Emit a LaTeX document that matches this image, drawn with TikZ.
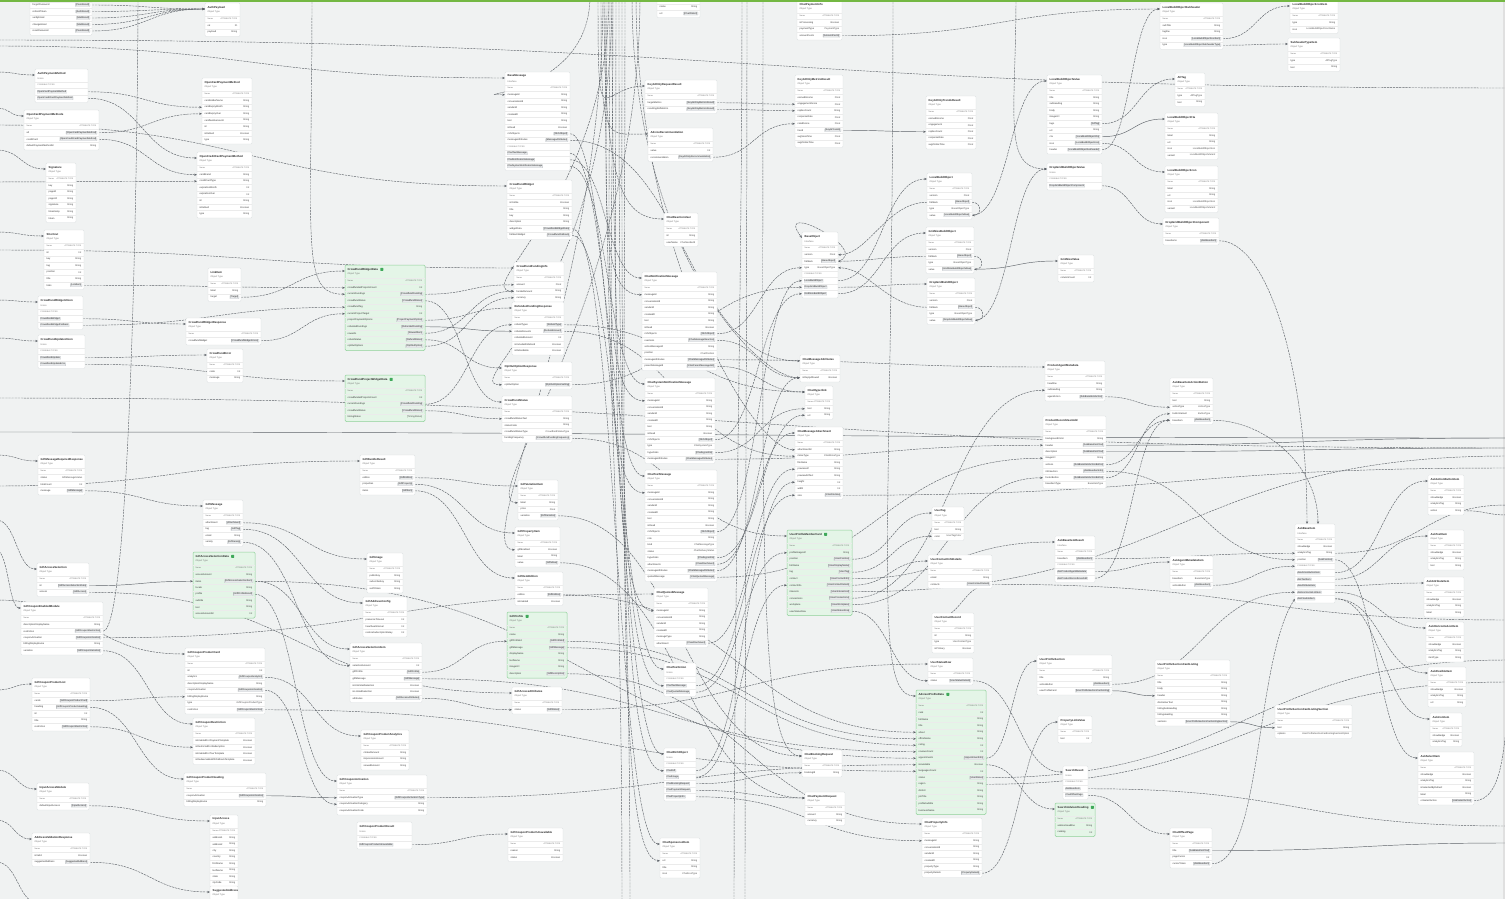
\documentclass[tikz,border=0pt]{standalone}
\usepackage{fontspec}
\setmainfont{Liberation Sans}
\usetikzlibrary{arrows.meta,calc}
\definecolor{canvasbg}{HTML}{F0F2F2}
\definecolor{boxline}{HTML}{D9DDDF}
\definecolor{gfill}{HTML}{E4F5E7}
\definecolor{gline}{HTML}{8FD19A}
\definecolor{edgec}{HTML}{5E6369}
\definecolor{lnkfill}{HTML}{E7E9EB}
\definecolor{lnkline}{HTML}{B3B8BC}
\definecolor{topg}{HTML}{74B843}
\definecolor{gicon}{HTML}{3FA95A}
\pgfdeclarelayer{canvas}
\pgfdeclarelayer{edges}
\pgfdeclarelayer{bg}
\pgfsetlayers{canvas,edges,bg,main}
\tikzset{
  box/.style={draw=boxline, line width=0.3pt, fill=white, rounded corners=1.2pt, inner sep=0pt, outer sep=0pt},
  gbox/.style={draw=gline, line width=0.5pt, fill=gfill, rounded corners=1.2pt, inner sep=0pt, outer sep=0pt},
  ttl/.style={anchor=west, inner sep=0pt, font=\fontsize{2.8}{3}\selectfont\bfseries, text=black!85},
  knd/.style={anchor=west, inner sep=0pt, font=\fontsize{2.3}{2.5}\selectfont, text=black!55},
  fld/.style={anchor=west, inner sep=0pt, font=\fontsize{2.4}{2.6}\selectfont, text=black!80},
  typ/.style={anchor=east, inner sep=0pt, font=\fontsize{2.4}{2.6}\selectfont, text=black!70},
  lnk/.style={inner sep=0.5pt, fill=lnkfill, draw=lnkline, line width=0.2pt, rounded corners=0.3pt, font=\fontsize{2.4}{2.6}\selectfont, text=black!85},
  hdr/.style={inner sep=0pt, font=\fontsize{2}{2.2}\selectfont, text=black!55},
  sep/.style={draw=black!8, line width=0.25pt},
  gic/.style={fill=gicon, minimum size=3pt, inner sep=0pt, rounded corners=0.5pt},
  edge/.style={draw=edgec, line width=0.45pt, dash pattern=on 2.2pt off 0.9pt, -{Stealth[length=2.8pt,width=2.2pt]}},
  sedge/.style={draw=edgec, line width=0.45pt, -{Stealth[length=2.8pt,width=2.2pt]}}
}
% #1 style, #2 name, #3 x, #4 y, #5 width, #6 title, #7 kind, #8 rows
\newcommand\mkbox[8][box]{%
  \node[ttl] (#2-t) at (#3+2.5,#4+4.3) {#6};
  \node[knd] at (#3+2.5,#4+9.2) {#7};
  \xdef\nrows{0}%
  \if\relax\detokenize{#8}\relax\else
  \foreach \fa/\fb/\fk [count=\i] in {#8}{%
    \pgfmathsetmacro\ry{#4+13+(\i-0.5)*6.5}%
    \pgfmathsetmacro\rt{#4+13+(\i-1)*6.5}%
    \draw[sep] (#3,\rt) -- (#3+#5,\rt);%
    \coordinate (#2-r\i) at (#3+#5,\ry);%
    \coordinate (#2-l\i) at (#3,\ry);%
    \ifcase\fk\relax
      \node[fld] at (#3+2.5,\ry) {\fa}; \node[typ] at (#3+#5-2.5,\ry) {\fb};%
    \or
      \node[fld] at (#3+2.5,\ry) {\fa}; \node[lnk,anchor=east] at (#3+#5-2,\ry) {\fb};%
    \or
      \node[lnk,anchor=west] at (#3+2,\ry) {\fa};%
    \or
      \node[hdr,anchor=west] at (#3+2.5,\ry) {\fa}; \node[hdr,anchor=east] at (#3+#5-2.5,\ry) {\fb};%
    \fi
    \xdef\nrows{\i}%
  }%
  \fi
  \pgfmathsetmacro\bh{13+\nrows*6.5+1}%
  \begin{pgfonlayer}{bg}
    \node[#1, minimum width=#5pt, minimum height=\bh pt, anchor=north west] (#2) at (#3,#4) {};
  \end{pgfonlayer}
  \coordinate (#2-in) at (#3,#4+6);
}
\newcommand\edgD[3][]{\coordinate (tmpm) at ($(#2)!0.5!(#3)$); \draw[edge,#1] (#2) .. controls (#2 -| tmpm) and (#3 -| tmpm) .. (#3);}
\newcommand\edgS[3][]{\coordinate (tmpm) at ($(#2)!0.5!(#3)$); \draw[sedge,#1] (#2) .. controls (#2 -| tmpm) and (#3 -| tmpm) .. (#3);}
\newcommand\edgV[3][150]{\draw[edge] (#2) .. controls +(0,#1) and +(-45,0) .. (#3);}
\begin{document}
\begin{tikzpicture}[x=1pt,y=-1pt]
\useasboundingbox (0,0) rectangle (1505,899);
\begin{pgfonlayer}{canvas}
\fill[canvasbg] (0,0) rectangle (1505,899);
\fill[black!12] (1502.5,0) rectangle (1505,899);
\end{pgfonlayer}

% ---------- left column ----------
\mkbox{b1}{30}{-11.25}{62}{}{}{forgotPassword/[PassResult]/1, refreshToken/[AuthResult]/1, verifyEmail/[MailResult]/1, changeEmail/[MailResult]/1, resetPassword/[PassResult]/1}
\mkbox{b2}{205}{3}{35}{AuthPayload}{Object Type}{Name/ATTRIBUTE TYPE/3, ok/ID/0, payload/String/0}
\mkbox{b3}{35}{69}{53}{AuthPaymentMethod}{Union}{POSSIBLE TYPES//3, OpenCardPaymentMethod//2, OpenCreditCardPaymentMethod//2}
\mkbox{b4}{202}{78}{50}{OpenCardPaymentMethod}{Object Type}{Name/ATTRIBUTE TYPE/3, cardHolderName/String/0, cardExpiryMonth/String/0, cardExpiryYear/String/0, cardNumberLast4/String/0, id/String/0, isDefault/Boolean/0, type/String/0}
\mkbox{b5}{24}{110}{75}{OpenCardPaymentMethods}{Object Type}{Name/ATTRIBUTE TYPE/3, all/[OpenCardPaymentMethod]/1, creditCard/[OpenCreditCardPaymentMethod]/1, defaultPaymentMethodId/String/0}
\mkbox{b6}{197}{152}{55}{OpenCreditCardPaymentMethod}{Object Type}{Name/ATTRIBUTE TYPE/3, cardBrand/String/0, creditCardType/String/0, expirationMonth/Int/0, expirationYear/Int/0, id/String/0, isDefault/Boolean/0, type/String/0}
\mkbox{b7}{46}{163}{30}{Signature}{Object Type}{Name/ATTRIBUTE TYPE/3, key/String/0, pageId/String/0, pageUrl/String/0, signature/String/0, timestamp/String/0, token/String/0}
\mkbox{b8}{44}{230}{40}{Shortcut}{Object Type}{Name/ATTRIBUTE TYPE/3, id/Int/0, key/String/0, tag/String/0, position/Int/0, title/String/0, links/[LinkItem]/1}
\mkbox{b9}{208}{268}{33}{LinkItem}{Object Type}{Name/ATTRIBUTE TYPE/3, label/String/0, target/[Target]/1}
\mkbox{b10}{38}{296}{45}{CrowdfundWidgetUnion}{Union}{POSSIBLE TYPES//3, CrowdfundWidget//2, CrowdfundWidgetFallback//2}
\mkbox{b11}{186}{318}{75}{CrowdfundWidgetResponse}{Object Type}{Name/ATTRIBUTE TYPE/3, crowdfundWidget/[CrowdfundWidgetUnion]/1}
\mkbox{b12}{38}{335}{47}{CrowdfundUpdateUnion}{Union}{POSSIBLE TYPES//3, CrowdfundUpdate//2, CrowdfundUpdateError//2}
\mkbox{b13}{207}{349}{36}{CrowdfundError}{Object Type}{Name/ATTRIBUTE TYPE/3, code/Int/0, message/String/0}
\mkbox[gbox]{b14}{345}{265}{80}{CrowdfundWidgetData}{Object Type}{Name/ATTRIBUTE TYPE/3, crowdfundedProjectsCount/Int/0, currentFundings/[CrowdfundFunding]/1, crowdfundStatus/[CrowdfundStatus]/1, crowdfundTag/String/0, currentProjectTarget/Int/0, projectPaymentOptions/[ProjectPaymentOption]/1, refundedFundings/[RefundedFunding]/1, rewards/[RewardItem]/1, refundStatus/[RefundStatus]/1, optOutOptions/[OptOutOption]/1}
\mkbox[gbox]{b15}{345}{375}{80}{CrowdfundProjectWidgetData}{Object Type}{Name/ATTRIBUTE TYPE/3, crowdfundedProjectsCount/Int/0, currentFundings/[CrowdfundFunding]/1, crowdfundStatus/[CrowdfundStatus]/1, timingStatus/[TimingStatus]/0}
\mkbox{b16}{38}{455}{47}{GiftMessageRequiredResponse}{Object Type}{Name/ATTRIBUTE TYPE/3, status/GiftMessageStatus/0, totalCount/Int/0, message/[GiftMessage]/1}
\mkbox{b17}{360}{455}{55}{GiftBundleResult}{Object Type}{Name/ATTRIBUTE TYPE/3, edition/[GiftEdition]/1, properties/[GiftProperty]/1, items/[GiftItem]/1}
\mkbox{b18}{203}{500}{40}{GiftMessage}{Object Type}{Name/ATTRIBUTE TYPE/3, attachment/[Attachment]/1, tag/[GiftTag]/1, email/String/0, variety/[GiftVariety]/1}
\mkbox{b19}{37}{563}{52}{GiftAccessSelection}{Object Type}{Name/ATTRIBUTE TYPE/3, id/[GiftAccessSelectionData]/1, access/[GiftAccess]/1}
\mkbox{b20}{21}{602}{82}{GiftCouponEnabledModule}{Object Type}{Name/ATTRIBUTE TYPE/3, descriptionDisplayName/String/0, restriction/[GiftCouponRestriction]/1, couponActivation/[GiftCouponActivation]/1, billingDisplayName/String/0, variation/[GiftCouponVariation]/1}
\mkbox[gbox]{b21}{193}{552}{62}{GiftAccessSelectionData}{Object Type}{Name/ATTRIBUTE TYPE/3, accessAmount/String/0, items/[GiftAccessSelectionItem]/1, locale/String/0, profile/[GiftProfileResult]/1, subtitle/String/0, text/String/0, accessAmountId/Int/0}
\mkbox{b22}{367}{553}{36}{GiftImage}{Object Type}{Name/ATTRIBUTE TYPE/3, publicKey/String/0, subscribeKey/String/0, authToken/String/0}
\mkbox{b23}{363}{597}{44}{GiftAddressConfig}{Object Type}{Name/ATTRIBUTE TYPE/3, presenceTimeout/Int/0, heartbeatInterval/Int/0, restoreSubscriptionDelay/Int/0}
\mkbox{b24}{185}{648}{80}{GiftCouponProductCard}{Object Type}{Name/ATTRIBUTE TYPE/3, id/Int/0, analytics/[GiftCouponAnalytics]/1, descriptionDisplayName/String/0, couponActivation/[GiftCouponActivation]/1, billingDisplayName/String/0, type/GiftCouponProductType/0, restriction/[GiftCouponRestriction]/1}
\mkbox{b25}{350}{643}{72}{GiftAccessSelectionItem}{Object Type}{Name/ATTRIBUTE TYPE/3, selectionAmount/Int/0, giftProfile/[GiftProfile]/1, giftMessage/[GiftMessage]/1, isUnlimitedSelection/Boolean/0, isLimitedSelection/Boolean/0, attributes/[GiftAccessAttributes]/1}
\mkbox{b26}{32}{678}{58}{GiftCouponProductList}{Object Type}{Name/ATTRIBUTE TYPE/3, cards/[GiftCouponProductCard]/1, heading/[GiftCouponProductHeading]/1, id/Int/0, title/String/0, restriction/[GiftCouponRestriction]/1}
\mkbox{b27}{193}{718}{62}{GiftCouponRestriction}{Object Type}{Name/ATTRIBUTE TYPE/3, isEnabledForPaymentTemplate/Boolean/0, isRestrictedForRedemption/Boolean/0, isEnabledForTourTemplate/Boolean/0, isRedeemableWithFallbackTemplate/Boolean/0}
\mkbox{b28}{361}{730}{48}{GiftCouponProductAnalytics}{Object Type}{Name/ATTRIBUTE TYPE/3, clickedAmount/String/0, impressionAmount/String/0, viewedAmount/String/0}
\mkbox{b29}{184}{773}{82}{GiftCouponProductHeading}{Object Type}{Name/ATTRIBUTE TYPE/3, couponActivation/[GiftCouponActivation]/1, billingDisplayName/String/0}
\mkbox{b30}{337}{775}{90}{GiftCouponActivation}{Object Type}{Name/ATTRIBUTE TYPE/3, couponActivationType/[GiftCouponActivationType]/1, couponActivationCategory/String/0, couponActivationCode/String/0}
\mkbox{b31}{37}{783}{52}{InputAccessModule}{Object Type}{Name/ATTRIBUTE TYPE/3, defaultInputAccess/[InputAccess]/1}
\mkbox{b32}{32}{833}{58}{AddressValidationResponse}{Object Type}{Name/ATTRIBUTE TYPE/3, isValid/Boolean/0, suggestedAddress/[SuggestedAddress]/1}
\mkbox{b33}{210}{815}{28}{InputAccess}{Object Type}{Name/ATTRIBUTE TYPE/3, address1/String/0, address2/String/0, city/String/0, country/String/0, firstName/String/0, lastName/String/0, state/String/0, zipCode/String/0}
\mkbox{b34}{210}{886}{28}{SuggestedAddress}{Object Type}{}
\mkbox{b35}{357}{822}{55}{GiftCouponProductResult}{Union}{POSSIBLE TYPES//3, GiftCouponProductUnavailable//2}
\mkbox{b36}{508}{828}{55}{GiftCouponProductUnavailable}{Object Type}{Name/ATTRIBUTE TYPE/3, reason/String/0, status/Boolean/0}

% ---------- middle ----------
\mkbox{b37}{505}{72}{65}{BaseMessage}{Interface}{Name/ATTRIBUTE TYPE/3, messageId/String/0, conversationId/String/0, senderId/String/0, createdAt/String/0, text/String/0, isRead/Boolean/0, richObjects/[RichObject]/1, messageAttributes/[MessageAttributes]/1, POSSIBLE TYPES//3, ChatTextMessage//2, ChatNotificationMessage//2, ChatSystemNotificationMessage//2}
\mkbox{b38}{507}{180}{65}{CrowdfundWidget}{Object Type}{Name/ATTRIBUTE TYPE/3, isVisible/Boolean/0, title/String/0, key/String/0, description/String/0, widgetData/[CrowdfundWidgetData]/1, fallbackWidget/[CrowdfundFallback]/1}
\mkbox{b39}{514}{262}{50}{CrowdfundFundingInfo}{Object Type}{Name/ATTRIBUTE TYPE/3, amount/Float/0, fundedAmount/String/0, currency/String/0}
\mkbox{b40}{512}{302}{52}{RefundedFundingResponse}{Object Type}{Name/ATTRIBUTE TYPE/3, refundTypes/[RefundType]/1, refundAmounts/[RefundAmount]/1, refundedAmount/Int/0, isIncludedInRefund/Boolean/0, isRefundable/Boolean/0}
\mkbox{b41}{502}{362}{70}{OptOutOptionResponse}{Object Type}{Name/ATTRIBUTE TYPE/3, optOutOption/[OptOutOptionSetting]/1}
\mkbox{b42}{502}{396}{70}{CrowdfundStatus}{Object Type}{Name/ATTRIBUTE TYPE/3, crowdfundStatusText/String/0, statusCode/String/0, crowdfundStatusType/CrowdfundStatusType/0, fundingFrequency/[CrowdfundFundingFrequency]/1}
\mkbox{b43}{518}{480}{40}{GiftVariationItem}{Object Type}{Name/ATTRIBUTE TYPE/3, label/String/0, price/Float/0, variation/[GiftVariation]/1}
\mkbox{b44}{515}{527}{45}{GiftPropertyItem}{Object Type}{Name/ATTRIBUTE TYPE/3, giftEnabled/Boolean/0, label/String/0, value/[GiftValue]/1}
\mkbox{b45}{515}{572}{48}{GiftItemEdition}{Object Type}{Name/ATTRIBUTE TYPE/3, edition/[GiftEdition]/1, isEnabled/Boolean/0}
\mkbox[gbox]{b46}{507}{612}{60}{GiftProfile}{Object Type}{Name/ATTRIBUTE TYPE/3, name/String/0, giftProfileId/[GiftProfileId]/1, giftMessage/[GiftMessage]/1, displayName/String/0, lastName/String/0, imageUrl/String/0, description/[GiftDescription]/1}
\mkbox{b47}{512}{687}{50}{GiftAccessAttributes}{Object Type}{Name/ATTRIBUTE TYPE/3, status/[GiftStatus]/1}
\mkbox{b48}{657}{-9.25}{43}{}{}{name/String/0, url/[ChatFileUrl]/1}
\mkbox{b49}{645}{80}{72}{KeyAIOnlyRequestResult}{Object Type}{Name/ATTRIBUTE TYPE/3, targetMetrics/[KeyAIOnlyMetricsResult]/1, resultingRefMetrics/[KeyAIOnlyMetricsResult]/1}
\mkbox{b50}{648}{128}{65}{AdviceRecommendation}{Object Type}{Name/ATTRIBUTE TYPE/3, value/Int/0, recommendation/[KeyAIOnlyRecommendation]/1}
\mkbox{b51}{664}{213}{34}{ChatReactionUser}{Object Type}{Name/ATTRIBUTE TYPE/3, id/String/0, userName/ChatSenderId/0}
\mkbox{b52}{642}{272}{75}{ChatNotificationMessage}{Object Type}{Name/ATTRIBUTE TYPE/3, messageId/String/0, conversationId/String/0, senderId/String/0, createdAt/String/0, text/String/0, isRead/Boolean/0, richObjects/[RichObject]/1, reactions/[ChatMessageReaction]/1, actionMessageId/String/0, position/ChatPosition/0, messageAttributes/[ChatMessageAttributes]/1, parentMessageId/[ChatParentMessageAttr]/1}
\mkbox{b53}{645}{378}{70}{ChatSystemNotificationMessage}{Object Type}{Name/ATTRIBUTE TYPE/3, messageId/String/0, conversationId/String/0, senderId/String/0, createdAt/String/0, text/String/0, isRead/Boolean/0, richObjects/[RichObject]/1, type/ChatSystemType/0, hyperlinks/[ChatHyperlink]/1, messageAttributes/[ChatMessageAttributes]/1}
\mkbox{b54}{645}{470}{72}{ChatTextMessage}{Object Type}{Name/ATTRIBUTE TYPE/3, messageId/String/0, conversationId/String/0, senderId/String/0, createdAt/String/0, text/String/0, isRead/Boolean/0, richObjects/[RichObject]/1, role/String/0, kind/ChatMessageType/0, status/ChatDeliveryStatus/0, hyperlinks/[ChatHyperlink]/1, attachments/[ChatAttachment]/1, messageAttributes/[ChatMessageAttributes]/1, quotedMessage/[ChatQuotedMessage]/1}
\mkbox{b55}{654}{588}{54}{ChatQuotedMessage}{Object Type}{Name/ATTRIBUTE TYPE/3, messageId/String/0, conversationId/String/0, senderId/String/0, createdAt/String/0, messageType/String/0, attachment/[ChatAttachment]/1}
\mkbox{b56}{664}{663}{32}{ChatTextUnion}{Union}{POSSIBLE TYPES//3, ChatTextMessage//2, ChatQuotedMessage//2}
\mkbox{b57}{664}{748}{32}{ChatRichObject}{Union}{POSSIBLE TYPES//3, ChatGift//2, ChatImage//2, ChatBookingRequest//2, ChatPaymentRequest//2, ChatPropertyInfo//2}
\mkbox{b58}{660}{838}{40}{ChatSponsoredItem}{Object Type}{Name/ATTRIBUTE TYPE/3, url/String/0, title/String/0, icon/ChatIconType/0}
\mkbox{b59}{797}{0}{45}{ChatPaymentInfo}{Object Type}{Name/ATTRIBUTE TYPE/3, isProcessing/Boolean/0, paymentType/PaymentType/0, amountCents/[AmountCents]/1}
\mkbox{b60}{795}{75}{48}{KeyAIOnlyMetricsResult}{Object Type}{Name/ATTRIBUTE TYPE/3, earnedIncome/Float/0, engagementScore/Float/0, repliesCount/String/0, responseRate/Float/0, ratedScore/Float/0, trend/[KeyAITrends]/1, avgViewTime/Float/0, avgOnlineTime/Float/0}
\mkbox{b61}{802}{232}{36}{BaseObject}{Interface}{Name/ATTRIBUTE TYPE/3, version/Float/0, fallback/[BaseObject]/1, type/BaseObjectType/0, POSSIBLE TYPES//3, LocalBuildObject//2, DropGridBuildObject//2, GridSizeBuildObject//2}
\mkbox{b62}{800}{355}{40}{ChatMessageAttributes}{Object Type}{Name/ATTRIBUTE TYPE/3, isReplyAllowed/Boolean/0}
\mkbox{b63}{805}{386}{28}{ChatHyperlink}{Object Type}{Name/ATTRIBUTE TYPE/3, text/String/0, url/String/0}
\mkbox{b64}{795}{427}{48}{ChatMessageAttachment}{Object Type}{Name/ATTRIBUTE TYPE/3, attachmentId/String/0, mimeType/ChatMimeType/0, fileName/String/0, previewUrl/String/0, previewAltText/String/0, height/Int/0, width/Int/0, size/[ChatFileSize]/1}
\mkbox[gbox]{b65}{787}{530}{65}{UserProfileMemberCard}{Object Type}{Name/ATTRIBUTE TYPE/3, profileImageUrl/String/0, position/[UserPosition]/1, fullName/[UserDisplayName]/1, tag/[UserTag]/1, contact/[UserContactInfo]/1, contactInfo/[UserContactDetails]/1, interests/[UserInterestList]/1, connections/[UserConnections]/1, workplace/[UserWorkplace]/1, userStatusRow/[UserStatusRow]/1}
\mkbox{b66}{802}{750}{40}{ChatBookingRequest}{Object Type}{Name/ATTRIBUTE TYPE/3, bookingId/String/0}
\mkbox{b67}{805}{792}{40}{ChatPaymentRequest}{Object Type}{Name/ATTRIBUTE TYPE/3, amount/String/0, currency/String/0}
\mkbox{b68}{922}{818}{60}{ChatPropertyInfo}{Object Type}{Name/ATTRIBUTE TYPE/3, messageId/String/0, conversationId/String/0, senderId/String/0, createdAt/String/0, propertyType/String/0, propertyDetails/[PropertyDetails]/1}
\mkbox[gbox]{b69}{916}{690}{70}{AdvisorProfileData}{Object Type}{Name/ATTRIBUTE TYPE/3, rank/Int/0, fullName/String/0, title/String/0, about/String/0, officeName/String/0, rating/Int/0, reviewsCount/Int/0, appointments/[AppointmentInfo]/1, isAvailable/Boolean/0, languagesCount/Int/0, status/[UserStatus]/1, region/String/0, district/String/0, jobTitle/String/0, profileSubtitle/String/0, businessName/String/0}
\mkbox{b70}{926}{96}{50}{KeyAIOnlyTrendsResult}{Object Type}{Name/ATTRIBUTE TYPE/3, earnedIncome/Float/0, engagement/Float/0, repliesCount/Float/0, responseRate/Float/0, avgOnlineTime/Float/0}
\mkbox{b71}{927}{173}{45}{LocalBuildObject}{Object Type}{Name/ATTRIBUTE TYPE/3, version/Float/0, fallback/[BaseObject]/1, type/BaseObjectType/0, value/[LocalBuildObjectValue]/1}
\mkbox{b72}{926}{227}{48}{GridSizeBuildObject}{Object Type}{Name/ATTRIBUTE TYPE/3, version/Float/0, fallback/[BaseObject]/1, type/BaseObjectType/0, value/[GridSizeBuildObjectValue]/1}
\mkbox{b73}{927}{278}{48}{DropGridBuildObject}{Object Type}{Name/ATTRIBUTE TYPE/3, version/Float/0, fallback/[BaseObject]/1, type/BaseObjectType/0, value/[DropGridBuildObjectValue]/1}
\mkbox{b74}{932}{507}{32}{UserTag}{Object Type}{Name/ATTRIBUTE TYPE/3, text/String/0, color/UserTagColor/0}
\mkbox{b75}{928}{555}{64}{UserContactInfoDetails}{Object Type}{Name/ATTRIBUTE TYPE/3, email/String/0, contacts/[UserContactDetails]/1}
\mkbox{b76}{932}{613}{42}{UserContactRecord}{Object Type}{Name/ATTRIBUTE TYPE/3, id/String/0, type/UserContactType/0, isPrimary/Boolean/0}
\mkbox{b77}{928}{658}{45}{UserStatusRow}{Object Type}{Name/ATTRIBUTE TYPE/3, status/[UserStatusDetails]/1}

% ---------- right ----------
\mkbox{b78}{1058}{255}{36}{GridSizeValue}{Object Type}{Name/ATTRIBUTE TYPE/3, columnCount/Int/0}
\mkbox{b79}{1047}{75}{55}{LocalBuildObjectValue}{Object Type}{Name/ATTRIBUTE TYPE/3, title/String/0, subheading/String/0, body/String/0, imageUrl/String/0, tags/[AllTag]/1, url/String/0, cta/[LocalBuildObjectCta]/1, icon/[LocalBuildObjectIcon]/1, header/[LocalBuildObjectSubheader]/1}
\mkbox{b80}{1047}{163}{55}{DropGridBuildObjectValue}{Union}{POSSIBLE TYPES//3, DropGridBuildObjectComponent//2}
\mkbox{b81}{1160}{3}{63}{LocalBuildObjectSubheader}{Object Type}{Name/ATTRIBUTE TYPE/3, subTitle/String/0, tagline/String/0, icon/[LocalBuildObjectIconItem]/1, type/[LocalBuildObjectSubheaderType]/1}
\mkbox{b82}{1175}{73}{30}{AllTag}{Object Type}{Name/ATTRIBUTE TYPE/3, type/AllTagType/0, text/String/0}
\mkbox{b83}{1165}{113}{53}{LocalBuildObjectCta}{Object Type}{Name/ATTRIBUTE TYPE/3, label/String/0, url/String/0, icon/LocalBuildObjectIcon/0, variant/LocalBuildObjectVariant/0}
\mkbox{b84}{1165}{166}{53}{LocalBuildObjectIcon}{Object Type}{Name/ATTRIBUTE TYPE/3, label/String/0, url/String/0, icon/LocalBuildObjectIcon/0, variant/LocalBuildObjectVariant/0}
\mkbox{b85}{1163}{218}{56}{DropGridBuildObjectComponent}{Object Type}{Name/ATTRIBUTE TYPE/3, baseItems/[AskBaseItem]/1}
\mkbox{b86}{1290}{0}{48}{LocalBuildObjectIconItem}{Object Type}{Name/ATTRIBUTE TYPE/3, type/String/0, icon/LocalBuildObjectIconName/0}
\mkbox{b87}{1288}{38}{52}{SubheaderTypeItem}{Object Type}{Name/ATTRIBUTE TYPE/3, type/AllTagType/0, text/String/0}
\mkbox{b88}{1045}{361}{60}{ProductAgentMetadata}{Object Type}{Name/ATTRIBUTE TYPE/3, headline/String/0, subheading/String/0, agentAction/[AskBaseItemAction]/1}
\mkbox{b89}{1043}{416}{63}{ProductRecordUserAdd}{Object Type}{Name/ATTRIBUTE TYPE/3, backgroundColor/String/0, header/[AskBaseItemText]/1, description/[AskBaseItemText]/1, imageUrl/String/0, actions/[AskBaseItemActionButton]/1, infoSection/[AskBaseItemInfo]/1, footerButton/[AskBaseItemActionButton]/1, baseItemType/BaseItemType/0}
\mkbox{b90}{1170}{378}{43}{AskBaseItemActionButton}{Object Type}{Name/ATTRIBUTE TYPE/3, text/String/0, actionType/ActionType/0, buttonVariant/ButtonType/0, baseItem/[AskBaseItem]/1}
\mkbox{b91}{1055}{536}{40}{AskBaseItemResult}{Interface}{Name/ATTRIBUTE TYPE/3, baseItem/[AskBaseItem]/1, POSSIBLE TYPES//3, AskProductAgentMetadata//2, AskProductRecordUserAdd//2}
\mkbox{b92}{1170}{556}{43}{AskAgentMetadataItem}{Object Type}{Name/ATTRIBUTE TYPE/3, baseItem/BaseItemType/0, actionButton/[AskBaseItem]/1}
\mkbox{b93}{1037}{655}{75}{UserProfileSection}{Object Type}{Name/ATTRIBUTE TYPE/3, title/String/0, actionButton/[AskBaseItem]/1, userProfileCard/[UserProfileSectionCardListing]/1}
\mkbox{b94}{1155}{660}{75}{UserProfileSectionCardListing}{Object Type}{Name/ATTRIBUTE TYPE/3, title/String/0, body/String/0, header/String/0, disclaimerText/String/0, listingSubHeading/String/0, listingHeading/String/0, sections/[UserProfileSectionCardListingSection]/1}
\mkbox{b95}{1275}{705}{77}{UserProfileSectionCardListingSection}{Object Type}{Name/ATTRIBUTE TYPE/3, text/String/0, options/UserProfileSectionCardListingSectionOption/0}
\mkbox{b96}{1058}{716}{34}{PropertyLinkValue}{Object Type}{Name/ATTRIBUTE TYPE/3, text/Int/0}
\mkbox{b97}{1063}{766}{25}{SearchResult}{Union}{POSSIBLE TYPES//3, AskBaseItem//2, ChatOffsetPage//2}
\mkbox[gbox]{b98}{1055}{803}{40}{SearchAdvisorHeading}{Object Type}{Name/ATTRIBUTE TYPE/3, advisorHeadline/String/0, ranking/Int/0}
\mkbox{b99}{1170}{828}{42}{ChatOffsetPage}{Object Type}{Name/ATTRIBUTE TYPE/3, title/[AskBaseItemText]/1, pageCursor/Int/0, cursorToken/[AskBaseItem]/1}
\mkbox{b100}{1295}{524}{40}{AskBaseItem}{Interface}{Name/ATTRIBUTE TYPE/3, showBadge/Boolean/0, analyticsTag/String/0, position/[AskPosition]/1, POSSIBLE TYPES//3, AskActionButtonItem//2, AskTextItem//2, AskAttributeItem//2, AskHorizontalListItem//2, AskFlexibleItem//2}
\mkbox{b101}{1428}{475}{36}{AskActionButtonItem}{Object Type}{Name/ATTRIBUTE TYPE/3, showBadge/Boolean/0, analyticsTag/String/0, action/String/0}
\mkbox{b102}{1428}{530}{36}{AskTextItem}{Object Type}{Name/ATTRIBUTE TYPE/3, showBadge/Boolean/0, analyticsTag/String/0, text/String/0}
\mkbox{b103}{1424}{577}{40}{AskAttributeItem}{Object Type}{Name/ATTRIBUTE TYPE/3, showBadge/Boolean/0, analyticsTag/String/0, label/String/0}
\mkbox{b104}{1426}{622}{38}{AskHorizontalListItem}{Object Type}{Name/ATTRIBUTE TYPE/3, showBadge/Boolean/0, analyticsTag/String/0, itemType/String/0}
\mkbox{b105}{1428}{667}{38}{AskFlexibleItem}{Object Type}{Name/ATTRIBUTE TYPE/3, showBadge/Boolean/0, analyticsTag/String/0, url/String/0}
\mkbox{b106}{1430}{713}{32}{AskIconItem}{Object Type}{Name/ATTRIBUTE TYPE/3, showBadge/Boolean/0, analyticsTag/String/0}
\mkbox{b107}{1418}{752}{56}{AskSelectItem}{Object Type}{Name/ATTRIBUTE TYPE/3, showBadge/Boolean/0, analyticsTag/String/0, isSelectedByDefault/Boolean/0, label/String/0, onSelectAction/[AskSelectAction]/1}

% green icons
\foreach \g in {b14,b15,b21,b46,b65,b69,b98}{\node[gic,anchor=west] at ([xshift=2pt]\g-t.east) {};}

% free ends
\foreach \n/\x/\y in {fL1/-4/40, fL2/-4/46, fL3/-4/125, fL4/-4/72, fL5/-4/108, fL6/-4/150, fL7/-4/232, fL8/-4/300, fL9/-4/338, fL10/-4/398, fL11/-4/432, fL12/-4/455, fL13/-4/486, fL14/-4/520, fL15/-4/550, fL16/-4/690, fL17/-4/770, fL18/-4/820, fL19/-4/250, fL20/-4/182, fL21/-4/600, fL22/-4/862,
 fR1/1509/88, fR2/1509/448, fR3/1509/438, fR4/1509/456, fR5/1509/468, fR6/1509/505, fR7/1509/700, fR8/1509/826, fR9/1509/843, fR10/1509/660, fR11/1509/682, fR12/1509/515, fR13/1509/620,
 fT1/312/-4, fT2/138/-4, fT3/598/-4, fT4/601/-4, fT5/604/-4, fT6/607/-4, fT7/610/-4, fT8/613/-4, fT9/616/-4, fT10/619/-4, fT11/622/-4, fT12/625/-4, fT13/632/-4, fT14/636/-4, fT15/640/-4, fT16/603/-4, fT17/609/-4, fT18/612/-4, fT19/590/-4, fT20/742/-4, fT21/747/-4, fT22/763/-4, fT23/893/-4, fT24/1016/-4, fT25/605/-4, fT26/612/-4,
 fB1/734/903, fB2/622/903, fB3/630/903, fB4/745/903, fB5/40/903}{\coordinate (\n) at (\x,\y);}

\begin{pgfonlayer}{edges}
% top-left
\foreach \k in {1,...,5}{\edgD{b1-r\k}{b2-in}}
\edgD{fL1}{fR1}
\edgD{fL2}{b37-in}
\edgD{fL3}{b38-in}
\edgD{fL4}{b3-in}
\edgD{fL5}{b5-in}
\edgD{fL6}{b7-in}
\edgD{fL20}{b6-l3}
\edgD{fL7}{b8-in}
\edgD{fL8}{b10-in}
\edgD{fL9}{b12-in}
\edgD{fL19}{b39-in}
\edgD{fL10}{fR2}
\edgS{fL11}{fR3}
\edgD{fL12}{b16-in}
\edgD{fL13}{b17-in}
\edgD{fL14}{b19-in}
\edgD{fL15}{b20-in}
\edgD{fL16}{b26-in}
\edgD{fL17}{b31-in}
\edgD{fL18}{b32-in}
\edgD{fL21}{b24-in}
\edgD{fL22}{fB5}
\edgD{b3-r2}{b4-l3}
\edgD{b3-r3}{b6-in}
\edgD{b5-r2}{b4-l4}
\edgD{b5-r3}{b6-l2}
\edgD{b8-r7}{b14-l2}
\edgD{b9-r3}{b14-in}
\edgD{b10-r2}{b11-in}
\edgD{b10-r3}{b14-l5}
\edgD{b11-r2}{b14-l6}
\edgD{b12-r2}{b13-in}
\edgD{b12-r3}{b15-in}
\edgV[250]{fT1}{b14-l3}
\edgD{b14-r3}{b39-l2}
\edgD{b14-r4}{b42-in}
\edgD{b14-r7}{b40-in}
\edgS{b14-r8}{b40-l3}
\edgD{b14-r9}{b39-l3}
\edgD{b14-r10}{b41-in}
\edgD{b14-r11}{b39-l4}
\edgD{b15-r3}{b40-l2}
\edgD{b15-r4}{b42-l2}
% left lower
\edgD{b16-r4}{b18-in}
\edgD{b17-r2}{b43-in}
\edgD{b17-r3}{b44-in}
\edgD{b17-r4}{b45-in}
\edgD{b18-r2}{b22-in}
\edgD{b18-r3}{b23-in}
\edgD{b18-r5}{b25-l2}
\edgS{b19-r2}{b21-l3}
\edgD{b19-r3}{b47-in}
\draw[edge] (b20-r3) .. controls +(30,0) and +(0,80) .. (fT2);
\edgD{b20-r4}{b55-in}
\edgD{b20-r6}{b27-in}
\edgD{b21-r3}{b25-in}
\edgD{b21-r5}{b30-in}
\edgD{b21-r3}{b69-l9}
\edgD{b26-r2}{b24-l6}
\edgD{b26-r3}{b29-in}
\edgD{b26-r6}{b27-l3}
\edgD{b24-r3}{b28-in}
\edgD{b24-r5}{b30-l3}
\edgS{b29-r2}{b30-l2}
\edgD{b25-r3}{b46-l3}
\edgD{b25-r4}{b69-l8}
\edgD{b25-r7}{b47-l2}
\edgD{b30-r2}{b69-l10}
\edgD{b24-r8}{b69-l11}
\edgD{b31-r2}{b33-in}
\edgD{b32-r3}{b34-in}
\edgD{b35-r2}{b36-in}
% middle
\edgD{b37-r8}{b57-in}
\edgD{b37-r9}{b62-in}
\edgD{b37-r11}{b54-in}
\edgD{b37-r12}{b52-in}
\edgD{b37-r13}{b53-in}
\edgD{b38-r6}{b58-in}
\edgD{b38-r7}{b56-in}
\edgD{b40-r2}{b63-in}
\edgD{b40-r3}{b64-l3}
\edgD{b41-r2}{b61-l7}
\edgD{b42-r5}{b65-in}
\edgD{b43-r4}{b66-in}
\edgD{b44-r4}{b67-in}
\edgD{b45-r2}{b69-l5}
\edgD{b46-r3}{b69-l6}
\edgD{b46-r4}{b69-l7}
\edgD{b46-r8}{b68-in}
\edgD{b47-r2}{b77-in}
\edgD{b49-r2}{b60-l3}
\edgD{b49-r3}{b60-l4}
\edgD{b50-r3}{b60-l6}
\edgS{b60-r7}{b70-l4}
\edgD{b52-r8}{b61-l4}
\edgD{b52-r9}{b62-l2}
\edgD{b52-r12}{b88-in}
\edgD{b52-r13}{b63-in}
\edgD{b53-r8}{b61-l8}
\edgD{b53-r10}{b63-l2}
\edgD{b53-r11}{b89-l3}
\edgD{b54-r8}{b61-l6}
\edgD{b54-r12}{b63-l3}
\edgD{b54-r13}{b64-in}
\edgD{b54-r14}{b62-l2}
\edgD{b54-r15}{b89-l5}
\edgD{b55-r7}{b64-l5}
\edgD{b56-r2}{b64-l9}
\edgD{b56-r3}{b65-l2}
\edgD{b57-r2}{b64-l7}
\edgD{b57-r3}{b65-l7}
\edgD{b57-r4}{b66-l2}
\edgD{b57-r5}{b67-in}
\edgD{b57-r6}{b68-l2}
\edgD{b59-r4}{b81-in}
\draw[edge] (b61-r3) .. controls +(35,-10) and +(-30,-40) .. (b61-in);
\edgD{b61-r6}{b71-in}
\edgD{b61-r7}{b73-in}
\edgD{b61-r8}{b72-in}
\draw[edge] (b71-l3) .. controls +(-40,0) and +(30,0) .. (b61-r2);
\draw[edge] (b72-l3) .. controls +(-40,0) and +(30,0) .. (b61-r3);
\draw[edge] (b73-l3) .. controls +(-40,0) and +(30,0) .. (b61-r4);
\foreach \b in {b71,b72,b73}{\draw[edge] (\b-r3) .. controls +(10,0) and +(10,0) .. (\b-r5);}
\edgS{b72-r5}{b78-in}
\edgD{b71-r5}{b79-in}
\edgD{b73-r5}{b80-in}
\edgD{b65-r3}{b74-in}
\edgD{b65-r5}{b74-l3}
\edgD{b65-r7}{b75-in}
\edgD{b65-r11}{b77-l2}
\edgD{b75-r3}{b76-in}
\edgD{b65-r8}{fR4}
\edgD{b64-r9}{fR5}
\edgD{b65-r9}{b88-l3}
\edgD{b65-r10}{b89-l8}
\edgD{b65-r6}{b91-in}
\edgD{b69-r9}{b93-in}
\edgD{b69-r12}{fR10}
\edgD{b69-r13}{fR11}
\edgD{b69-r10}{b98-in}
\edgD{b68-r7}{b96-in}
\edgD{b77-r2}{b97-in}
\edgD{b75-r3}{fR13}
% right
\edgD{b79-r6}{b82-in}
\edgS{b79-r8}{b83-in}
\edgD{b79-r9}{b84-in}
\edgD{b79-r10}{b81-in}
\edgD{b81-r4}{b86-in}
\edgD{b81-r5}{b87-in}
\edgD{b80-r2}{b85-in}
\draw[edge] (b85-r2) .. controls +(50,0) and +(0,-150) .. ([xshift=-8pt]b100.north);
\draw[edge] (b90-r5) .. controls +(50,0) and +(0,-60) .. ([xshift=3pt]b100.north);
\edgD{b88-r4}{b90-l3}
\edgS{b89-r3}{fR3}
\edgS{b89-r4}{fR2}
\edgD{b89-r6}{b90-l5}
\edgD{b89-r7}{b100-l4}
\edgD{b89-r8}{b90-l4}
\edgD{b91-r2}{b100-l3}
\edgD{b91-r4}{b92-in}
\edgD{b91-r5}{b90-l5}
\edgD{b92-r3}{b100-l5}
\edgD{b100-r4}{b107-in}
\edgD{b100-r6}{b101-in}
\edgD{b100-r7}{b102-in}
\edgD{b100-r8}{b103-in}
\edgD{b100-r9}{b104-in}
\edgD{b100-r10}{b105-in}
\edgD{b100-r10}{b106-in}
\edgD{b100-r3}{fR6}
\edgD{b101-r4}{fR12}
\draw[edge] (b107-r6) .. controls +(30,0) and +(-5,40) .. (fR7);
\edgS{b93-r4}{b94-l4}
\edgD{b93-r3}{b100-l9}
\edgS{b94-r8}{b95-l2}
\edgD{b97-r2}{fR8}
\edgD{b97-r3}{b99-in}
\edgS{b99-r2}{fR9}
\draw[edge] (b99-r4) .. controls +(50,0) and +(-40,60) .. (b100-l10);
% vertical bundle
\edgV{fT3}{b49-in}
\edgV{fT4}{b50-in}
\edgV[180]{fT5}{b51-in}
\edgV[200]{fT6}{b52-l2}
\edgV[250]{fT7}{b53-l2}
\edgV[300]{fT8}{b54-l2}
\edgV[350]{fT9}{b55-l2}
\edgV[400]{fT10}{b56-l2}
\edgV[450]{fT11}{b57-l2}
\edgV[500]{fT12}{b58-l2}
\edgV[250]{fT13}{b62-l2}
\edgV[250]{fT14}{b64-l2}
\edgV[300]{fT15}{b43-l2}
\edgV[300]{fT16}{b44-l2}
\edgV[200]{fT17}{b39-l3}
\edgV[300]{fT18}{b41-l2}
\edgV[100]{fT19}{b37-l2}
\draw[edge] (fT20) .. controls +(0,300) and +(0,-300) .. (fB1);
\draw[edge] (fT21) .. controls +(0,300) and +(0,-300) .. (fB4);
\draw[edge] (fT25) .. controls +(0,400) and +(0,-400) .. (fB2);
\draw[edge] (fT26) .. controls +(0,400) and +(0,-400) .. (fB3);
\edgV[550]{fT22}{b66-in}
\edgV[550]{fT23}{b69-in}
\edgV[120]{fT24}{b80-in}
\end{pgfonlayer}

\fill[topg] (0,0) rectangle (1505,2.2);
\end{tikzpicture}
\end{document}
